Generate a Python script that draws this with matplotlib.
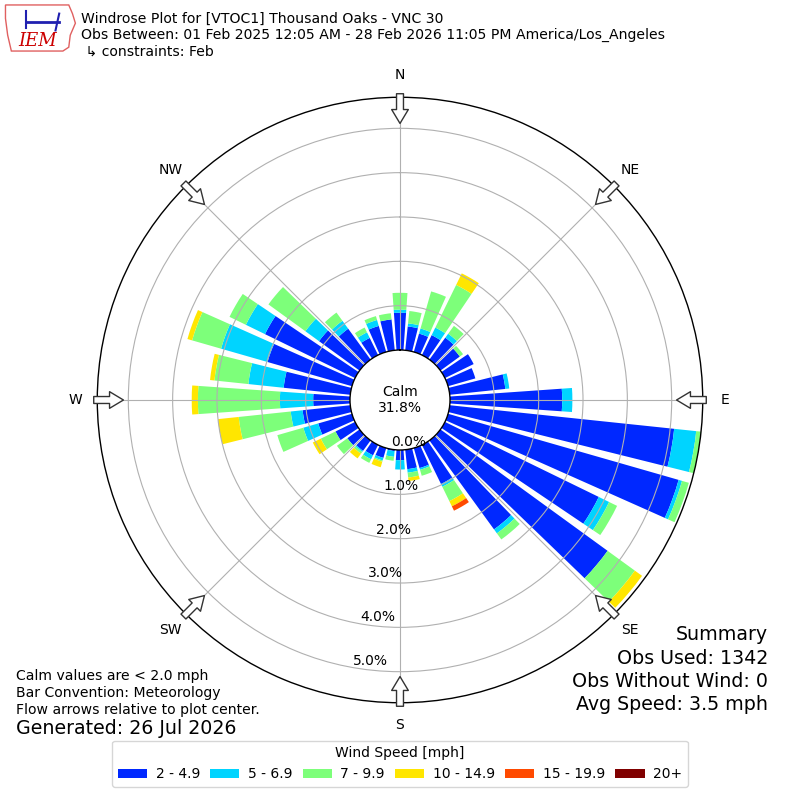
import numpy as np
import matplotlib
matplotlib.use("Agg")
import matplotlib.pyplot as plt
from matplotlib.patches import Patch, Polygon

# direction bins (deg, meteorological), 10 degree wide
directions = np.arange(0, 360, 10)

# percent of observations per direction for each speed bin
spd_2_5 = [0.84, 0.54, 0.43, 0.50, 0.61, 0.54, 0.72, 0.64, 1.26, 2.53, 5.09, 5.41,
           3.86, 4.66, 2.48, 0.98, 0.47, 0.44, 0.23, 0.03, 0.23, 0.26, 0.29, 0.34,
           0.49, 0.79, 1.08, 0.83, 1.51, 1.98, 2.26, 1.13, 0.86, 0.43, 0.61, 0.70]
spd_5_7 = [0.07, 0.07, 0.12, 0.19, 0.11, 0.00, 0.00, 0.00, 0.09, 0.23, 0.50, 0.08,
           0.26, 0.00, 0.11, 0.07, 0.04, 0.08, 0.21, 0.13, 0.06, 0.10, 0.03, 0.00,
           0.00, 0.35, 0.27, 0.75, 0.80, 1.09, 0.48, 0.38, 0.22, 0.14, 0.14, 0.00]
spd_7_10 = [0.38, 0.28, 0.87, 1.07, 0.22, 0.09, 0.00, 0.00, 0.00, 0.00, 0.15, 0.16,
            0.20, 0.76, 0.17, 0.36, 0.14, 0.11, 0.00, 0.09, 0.03, 0.09, 0.05, 0.29,
            0.37, 0.61, 1.18, 1.85, 0.77, 0.68, 0.41, 1.03, 0.23, 0.12, 0.09, 0.14]
spd_10_15 = [0.00, 0.00, 0.00, 0.29, 0.00, 0.00, 0.00, 0.00, 0.00, 0.00, 0.00, 0.00,
             0.00, 0.20, 0.00, 0.13, 0.00, 0.08, 0.00, 0.00, 0.13, 0.00, 0.13, 0.00,
             0.20, 0.00, 0.47, 0.14, 0.10, 0.11, 0.00, 0.00, 0.00, 0.00, 0.00, 0.00]
spd_15_20 = [0.00] * 15 + [0.11] + [0.00] * 20
spd_20p = [0.00] * 36

bins = [spd_2_5, spd_5_7, spd_7_10, spd_10_15, spd_15_20, spd_20p]
bin_labels = ["2 - 4.9", "5 - 6.9", "7 - 9.9", "10 - 14.9", "15 - 19.9", "20+"]
bin_colors = ["#0028ff", "#00d4ff", "#7dff7a", "#ffe600", "#ff4a00", "#800000"]

calm_pct = 31.8
rticks = [0, 1, 2, 3, 4, 5]
compass = ["N", "NE", "E", "SE", "S", "SW", "W", "NW"]

fig = plt.figure(figsize=(8, 8), dpi=100)

ax = fig.add_axes([0.1216, 0.1216, 0.7568, 0.7568], projection="polar")
ax.set_theta_zero_location("N")
ax.set_theta_direction(-1)
rmax = 5.70
ax.set_rorigin(-1.128)
ax.set_ylim(0, rmax)

theta = np.deg2rad(directions)
base = np.zeros(len(directions))
for vals, col, lab in zip(bins, bin_colors, bin_labels):
    vals = np.array(vals)
    ax.bar(theta, vals, width=np.deg2rad(8), bottom=base, color=col,
           edgecolor="none", linewidth=0, label=lab)
    base = base + vals

ax.set_yticks(rticks[1:])
ax.set_yticklabels([])
ax.set_xticks(np.deg2rad(np.arange(0, 360, 45)))
ax.set_xticklabels([])
ax.tick_params(length=0)
ax.grid(True, color="#b0b0b0", linewidth=0.8)
for sp in ax.spines.values():
    sp.set_color("black")
    sp.set_linewidth(1.0)

# radial labels
for p in rticks:
    ax.text(np.deg2rad(190), p, "%.1f%%" % p, ha="left", va="bottom",
            fontsize=10)

ax.text(0.5, 0.5, "Calm\n%.1f%%" % calm_pct, transform=ax.transAxes,
        ha="center", va="center", fontsize=10)

# compass labels and flow arrows
for i, name in enumerate(compass):
    th = np.deg2rad(i * 45)
    ax.text(th, 6.20, name, ha="center", va="center", fontsize=10)
    ax.annotate("", xy=(th, 5.11), xytext=(th, 5.78), annotation_clip=False,
                arrowprops=dict(arrowstyle="simple,head_length=0.5,head_width=0.6,tail_width=0.25",
                                fc="white", ec="#333333", lw=1, mutation_scale=20,
                                shrinkA=0, shrinkB=0))

# header
fig.text(81 / 800, 1 - 12 / 800,
         "Windrose Plot for [VTOC1] Thousand Oaks - VNC 30\n"
         "Obs Between: 01 Feb 2025 12:05 AM - 28 Feb 2026 11:05 PM America/Los_Angeles\n"
         " \u21b3 constraints: Feb", ha="left", va="top", fontsize=10.1)

# simple IEM logo
lax = fig.add_axes([0.005, 0.935, 0.092, 0.06])
lax.set_xlim(0, 1)
lax.set_ylim(0, 1)
lax.axis("off")
iowa = [(0.02, 0.98), (0.88, 0.98), (0.93, 0.8), (0.97, 0.6), (0.9, 0.35),
        (0.88, 0.1), (0.8, 0.02), (0.1, 0.02), (0.05, 0.35), (0.02, 0.7)]
lax.add_patch(Polygon(iowa, closed=True, fill=False, ec="#e06060", lw=1))
lax.plot([0.3, 0.75], [0.62, 0.62], color="#2020b0", lw=2)
lax.plot([0.3, 0.3], [0.5, 0.85], color="#2020b0", lw=1.5)
lax.plot([0.7, 0.75], [0.45, 0.8], color="#2020b0", lw=1.5)
lax.text(0.2, 0.22, "IEM", color="#cc0000", fontsize=13, style="italic",
         family="DejaVu Serif", ha="left", va="center")

# footer notes
fig.text(16 / 800, 1 - 676 / 800, "Calm values are < 2.0 mph", fontsize=10.05, va="center")
fig.text(16 / 800, 1 - 693 / 800, "Bar Convention: Meteorology", fontsize=10.05, va="center")
fig.text(16 / 800, 1 - 710 / 800, "Flow arrows relative to plot center.", fontsize=10.05, va="center")
fig.text(16 / 800, 1 - 729 / 800, "Generated: 26 Jul 2026", fontsize=13.7, va="center")

summary = ["Summary", "Obs Used: 1342", "Obs Without Wind: 0", "Avg Speed: 3.5 mph"]
for i, s in enumerate(summary):
    fig.text(768 / 800, 1 - (635 + 23.3 * i) / 800, s, fontsize=13.7,
             ha="right", va="center")

handles = [Patch(facecolor=c, edgecolor="none") for c in bin_colors]
fig.legend(handles, bin_labels, loc="lower center", bbox_to_anchor=(0.5, 0.008),
           ncol=6, title="Wind Speed [mph]", fontsize=10, title_fontsize=10,
           handlelength=2.1, handleheight=0.6, handletextpad=0.6, columnspacing=0.75)

fig.savefig("out.png", dpi=100)
